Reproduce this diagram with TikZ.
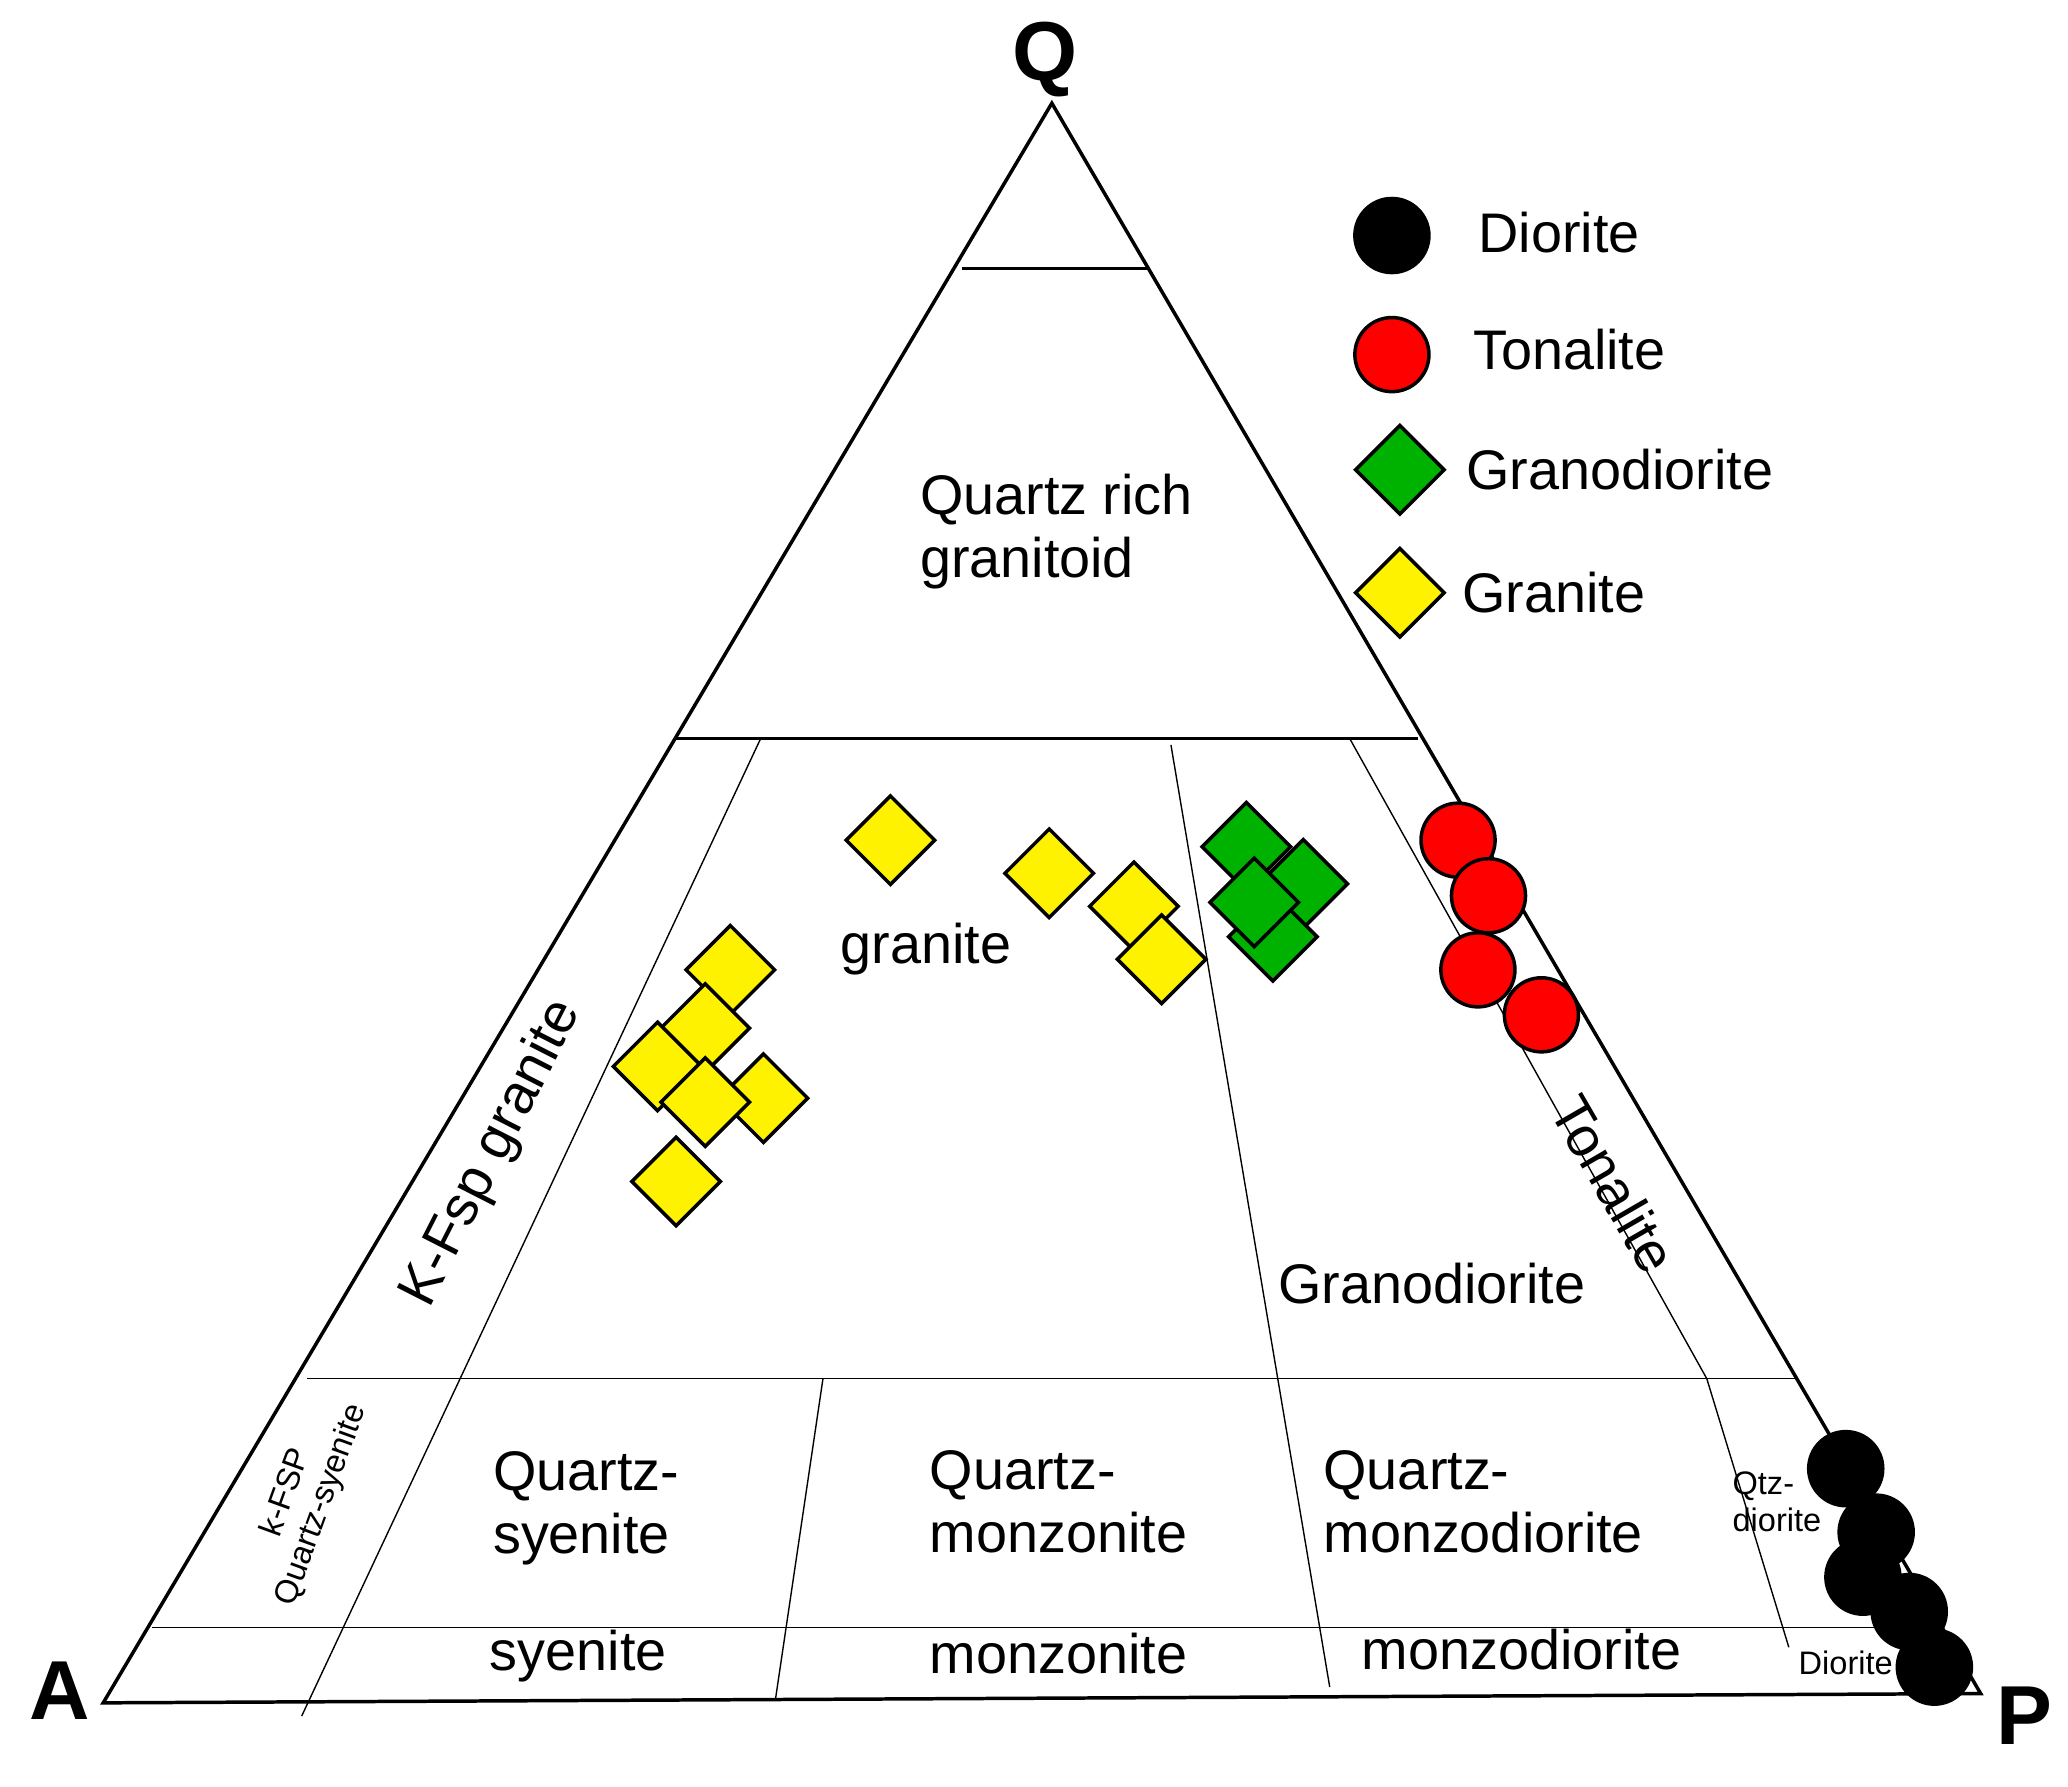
\documentclass[tikz,border=0pt]{standalone}
\usepackage{fontspec}
\setmainfont{Liberation Sans}
\usetikzlibrary{shapes.geometric}
\begin{document}
\begin{tikzpicture}[x=0.02cm,y=-0.02cm,
  lbl/.style={font=\fontsize{24}{27}\selectfont,align=left,inner sep=0},
  sm/.style={font=\fontsize{14}{16}\selectfont,align=left,inner sep=0},
  vtx/.style={font=\fontsize{36}{36}\selectfont\bfseries,inner sep=0},
  ylw/.style={diamond,draw=black,line width=1.5pt,fill=yellow,minimum size=68*0.02cm,inner sep=0},
  grn/.style={diamond,draw=black,line width=1.5pt,fill=green!70!black,minimum size=68*0.02cm,inner sep=0},
  red/.style={circle,draw=black,line width=1.5pt,fill=red,minimum size=56*0.02cm,inner sep=0},
  blk/.style={circle,draw=black,line width=1.5pt,fill=black,minimum size=56*0.02cm,inner sep=0},
  thin/.style={line width=0.6pt},
  thick/.style={line width=1.5pt}]
\useasboundingbox (0,0) rectangle (1563,1350);
\coordinate (A) at (78,1287); \coordinate (P) at (1497,1280); \coordinate (Q) at (795,78);
\draw[thick] (A)--(P)--(Q)--cycle;
\coordinate (t1) at (727,203); \coordinate (t2) at (868,203);
\coordinate (h1) at (510,558); \coordinate (h2) at (1072,558);
\coordinate (m1) at (232,1042); \coordinate (m2) at (1357,1042);
\coordinate (b1) at (115,1230); \coordinate (b2) at (1455,1230);
\draw[thick] (t1)--(t2); \draw[thick] (h1)--(h2);
\draw[thin] (m1)--(m2); \draw[thin] (b1)--(b2);
\coordinate (k1) at (575,558); \coordinate (k2) at (228,1297);
\coordinate (g1) at (885,563); \coordinate (g2) at (1005,1275);
\coordinate (n1) at (1020,558); \coordinate (n2) at (1290,1042); \coordinate (n3) at (1352,1245);
\coordinate (s1) at (622,1042); \coordinate (s2) at (586,1285);
\draw[thin] (k1)--(k2); \draw[thin] (g1)--(g2); \draw[thin] (n1)--(n2)--(n3); \draw[thin] (s1)--(s2);
\node[vtx] (lQ) at (790,45) {Q};
\node[vtx] (lA) at (45,1278) {A};
\node[vtx] (lP) at (1530,1297) {P};
\node[lbl,anchor=west] (qr) at (695,402) {Quartz rich\\granitoid};
\node[lbl] (gr) at (700,717) {granite};
\node[lbl,rotate=63] (kf) at (372,872) {K-Fsp granite};
\node[lbl,rotate=-60] (to) at (1220,895) {Tonalite};
\node[lbl] (gd) at (1082,970) {Granodiorite};
\node[lbl] (qs) at (443,1140) {Quartz-\\syenite};
\node[lbl] (qm) at (800,1135) {Quartz-\\monzonite};
\node[lbl,anchor=west] (qmd) at (1000,1135) {Quartz-\\monzodiorite};
\node[lbl] (sy) at (437,1252) {syenite};
\node[lbl] (mo) at (800,1250) {monzonite};
\node[lbl] (md) at (1150,1247) {monzodiorite};
\node[sm,rotate=70,align=center] (kq) at (230,1133) {k-FSP\\Quartz-syenite};
\node[sm] (qd) at (1343,1135) {Qtz-\\diorite};
\node[sm] (di) at (1395,1257) {Diorite};
\foreach \x/\y [count=\i] in {673/635,793/660,857/685,878/725,552/733,533/777,497/806,577/830,533/833,511/893}
  \node[ylw] (y\i) at (\x,\y) {};
\foreach \x/\y [count=\i] in {942/640,985/668,962/708,948/682}
  \node[grn] (g\i) at (\x,\y) {};
\foreach \x/\y [count=\i] in {1102,635/1,1125/677}{}
\node[red] (r1) at (1102,635) {}; \node[red] (r2) at (1125,677) {};
\node[red] (r3) at (1117,733) {}; \node[red] (r4) at (1165,767) {};
\foreach \x/\y [count=\i] in {1395/1110,1418/1158,1408/1192,1443/1218,1462/1260}
  \node[blk] (b\i) at (\x,\y) {};
\node[blk] (L1) at (1052,178) {}; \node[lbl,anchor=west] (T1) at (1117,176) {Diorite};
\node[red] (L2) at (1052,268) {}; \node[lbl,anchor=west] (T2) at (1113,264) {Tonalite};
\node[grn] (L3) at (1058,355) {}; \node[lbl,anchor=west] (T3) at (1108,355) {Granodiorite};
\node[ylw] (L4) at (1058,448) {}; \node[lbl,anchor=west] (T4) at (1105,448) {Granite};
\end{tikzpicture}
\end{document}
